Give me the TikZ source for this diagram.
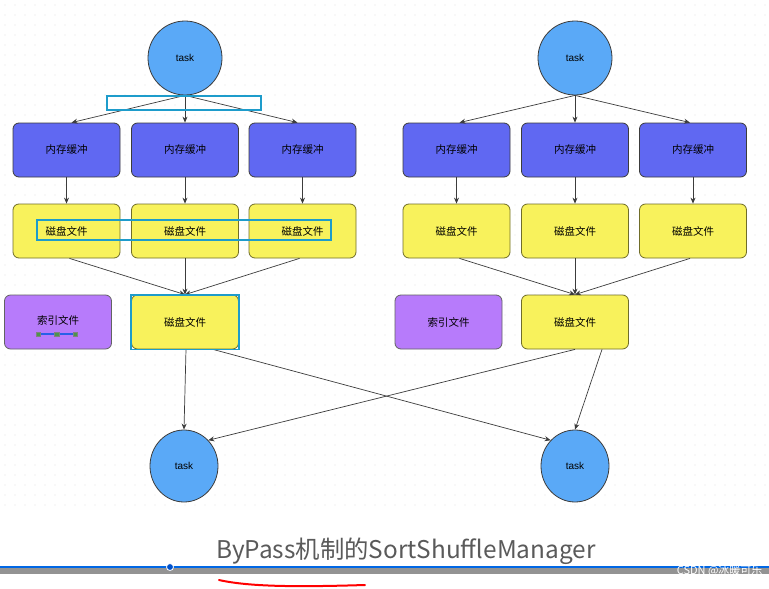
\documentclass[tikz,border=0pt]{standalone}
\usepackage{fontspec}
\setmainfont{Liberation Sans}
\newfontfamily\cjk{Noto Sans CJK SC}
\usetikzlibrary{arrows.meta,shapes.geometric}
\definecolor{taskblue}{HTML}{5AA9F7}
\definecolor{membuf}{HTML}{6068F2}
\definecolor{diskyel}{HTML}{F8F25C}
\definecolor{idxpur}{HTML}{B77BFB}
\definecolor{hlcyan}{HTML}{1E9CCB}
\definecolor{edgegray}{HTML}{3C3C3C}
\definecolor{titlegray}{HTML}{5A5A5A}
\definecolor{dotgray}{HTML}{E2E2E2}
\tikzset{
  taskc/.style={circle,draw=edgegray,line width=0.8pt,fill=taskblue,minimum size=74pt,inner sep=0pt,font=\fontsize{10}{12}\selectfont},
  tasko/.style={ellipse,draw=edgegray,line width=0.8pt,fill=taskblue,minimum width=68pt,minimum height=72pt,inner sep=0pt,font=\fontsize{10}{12}\selectfont},
  boxbase/.style={rounded corners=6pt,minimum width=107pt,minimum height=54pt,inner sep=0pt,line width=0.8pt,font=\cjk\fontsize{10.5}{12}\selectfont},
  membox/.style={boxbase,draw=edgegray,fill=membuf},
  diskbox/.style={boxbase,draw=black!55!diskyel,fill=diskyel},
  idxbox/.style={boxbase,draw=edgegray!80,fill=idxpur},
  conn/.style={draw=edgegray,line width=0.7pt,-{Stealth[length=6pt,width=5pt]}},
  hlbox/.style={draw=hlcyan,line width=1.8pt}
}
\begin{document}
\begin{tikzpicture}[x=1pt,y=-1pt]
\useasboundingbox (0,0) rectangle (769,589);
\fill[white] (0,0) rectangle (769,589);
% dot grid
\foreach \i in {0,...,76}{
  \foreach \j in {0,...,50}{
    \fill[dotgray] (5+\i*10,5+\j*10) circle (0.6pt);
  }
}
% ---------- left group ----------
\node[taskc] (tL) at (185,58) {task};
\node[membox] (mL1) at (66.5,150) {内存缓冲};
\node[membox] (mL2) at (185,150) {内存缓冲};
\node[membox] (mL3) at (302.5,150) {内存缓冲};
\node[diskbox] (dL1) at (66.5,231) {磁盘文件};
\node[diskbox] (dL2) at (185,231) {磁盘文件};
\node[diskbox] (dL3) at (302.5,231) {磁盘文件};
\node[idxbox] (iL) at (58,322) {\raisebox{3pt}{索引文件}};
\node[diskbox] (fL) at (185,322) {磁盘文件};
\node[tasko] (bL) at (184,466) {task};
% ---------- right group ----------
\node[taskc] (tR) at (575,58) {task};
\node[membox] (mR1) at (456.5,150) {内存缓冲};
\node[membox] (mR2) at (575,150) {内存缓冲};
\node[membox] (mR3) at (693,150) {内存缓冲};
\node[diskbox] (dR1) at (456.5,231) {磁盘文件};
\node[diskbox] (dR2) at (575,231) {磁盘文件};
\node[diskbox] (dR3) at (693,231) {磁盘文件};
\node[idxbox] (iR) at (448.5,322) {索引文件};
\node[diskbox] (fR) at (575,322) {磁盘文件};
\node[tasko] (bR) at (575,466) {task};
% ---------- connectors ----------
\draw[conn] (tL.south) -- ([xshift=5pt]mL1.north);
\draw[conn] (tL.south) -- (mL2.north);
\draw[conn] (tL.south) -- ([xshift=-5pt]mL3.north);
\draw[conn] (tR.south) -- ([xshift=3pt]mR1.north);
\draw[conn] (tR.south) -- (mR2.north);
\draw[conn] (tR.south) -- ([xshift=-3pt]mR3.north);
\foreach \k in {1,2,3}{
  \draw[conn] (mL\k.south) -- (dL\k.south |- dL\k.north);
  \draw[conn] (mR\k.south) -- (dR\k.south |- dR\k.north);
}
\draw[conn] ([xshift=3pt]dL1.south) -- (fL.north);
\draw[conn] (dL2.south) -- (fL.north);
\draw[conn] ([xshift=-3pt]dL3.south) -- (fL.north);
\draw[conn] ([xshift=3pt]dR1.south) -- (fR.north);
\draw[conn] (dR2.south) -- (fR.north);
\draw[conn] ([xshift=-3pt]dR3.south) -- (fR.north);
\draw[conn] ([xshift=1pt]fL.south) -- (bL.north);
\draw[conn] ([xshift=28pt]fL.south) -- (bR.north west);
\draw[conn] (fR.south) -- (bL.north east);
\draw[conn] ([xshift=27pt]fR.south) -- (bR.north);
% ---------- highlight boxes ----------
\draw[hlbox] (107,96) rectangle (261,110);
\draw[hlbox] (37,220) rectangle (331,240);
\draw[hlbox] (fL.south west) rectangle (fL.north east);
% handle under index file
\draw[line width=2.8pt,draw=hlcyan!50!blue!90] (38,334) -- (75,334);
\foreach \xx in {38,56.5,75}{
  \fill[draw=gray,line width=0.4pt,fill=green!40!black!70] (\xx-2.2,334-2.2) rectangle (\xx+2.2,334+2.2);
}
% ---------- bottom title & bar ----------
\node[font=\cjk\fontsize{24.4}{28}\selectfont,text=titlegray,anchor=base] (title) at (406,558) {ByPass机制的SortShuffleManager};
\fill[gray!85] (0,568) rectangle (769,574);
\draw[line width=1.6pt,draw=blue!55!cyan!90!black] (0,567) -- (769,567);
\fill[blue!60!cyan!80!black,draw=white,line width=0.8pt] (170,567) circle (3.5pt);
\draw[red,line width=2pt,line cap=round] (219,580) .. controls (250,587) and (300,587) .. (365,585);
\node[font=\cjk\fontsize{11}{13}\selectfont,text=white,anchor=east] (wm) at (766,571) {CSDN @冰暖可乐};
\end{tikzpicture}
\end{document}
